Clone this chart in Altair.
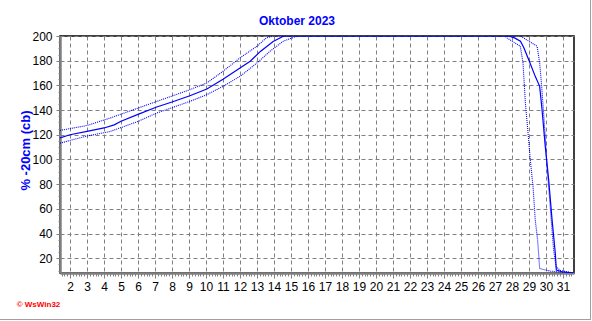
import altair as alt
import pandas as pd

# ---- data ----
main_day = [1.41, 2.0, 3.0, 4.0, 4.6, 5.0, 6.0, 7.1, 8.0, 9.05, 10.05, 11.0, 12.0,
            12.6, 13.2, 13.95, 14.55, 14.85, 27.8, 28.15, 28.5, 28.7, 28.98, 29.37,
            29.63, 29.77, 29.96, 30.16, 30.36, 30.55, 30.61, 30.94, 31.53, 31.65]
main_val = [117.5, 120, 122.8, 125.5, 128, 131, 136.5, 142.5, 146.5, 151.6, 157, 165, 174,
            179.5, 187.5, 195.5, 199.8, 200, 200, 198.5, 195.8, 190.4, 181, 167.3,
            159.2, 140.3, 110.5, 83.4, 51, 24, 10.3, 9, 8.2, 8]

upper_day = [1.41, 3.0, 4.35, 6.0, 7.1, 9.05, 10.05, 11.0, 12.0, 13.0, 13.55, 14.0,
             28.5, 28.85, 29.48, 29.63, 29.75, 29.86, 29.96, 30.06, 30.16, 30.31,
             30.45, 30.6, 30.85, 31.65]
upper_val = [123.5, 127.5, 133.5, 141.6, 147, 156.5, 162, 171.4, 182.3, 191.7, 198.5, 200,
             200, 197, 191.7, 178.2, 159, 137.6, 118.6, 94.2, 78, 51,
             26.5, 13, 10, 8]

lower_day = [1.41, 3.0, 4.35, 6.0, 7.1, 9.05, 10.05, 11.0, 12.0, 13.0, 13.77, 14.55,
             15.34, 15.6, 27.6, 27.7, 28.49, 28.65, 28.79, 28.93, 29.08, 29.24,
             29.37, 29.51, 29.63, 30.26, 31.65]
lower_val = [113.2, 119, 122.6, 130.8, 137.6, 147, 152.5, 159.2, 167.3, 178.2, 187.7, 195.8,
             199.8, 200, 200, 198.5, 191.7, 178.2, 145.7, 124, 99.6, 78,
             50.9, 34.6, 11.6, 9.5, 8]

x_domain = [1.41, 31.65]
y_domain = [8, 200]

BLUE = "#0000FF"
GRAY = "#808080"
FONT = "Liberation Sans"

x_ticks = [d + k / 6 for d in range(1, 33) for k in range(6)
           if x_domain[0] <= d + k / 6 <= x_domain[1]]
y_ticks = list(range(10, 201, 5))

is_int = "datum.value % 1 === 0"
is_20 = "datum.value % 20 === 0"

x_enc = alt.X(
    "day:Q",
    scale=alt.Scale(domain=x_domain, nice=False, zero=False),
    axis=alt.Axis(
        values=x_ticks,
        labelExpr="datum.value % 1 === 0 ? format(datum.value, 'd') : ''",
        labelOverlap=False,
        labelFlush=False,
        labelFont=FONT,
        labelFontSize=12,
        labelColor="black",
        labelPadding=3,
        tickColor=GRAY,
        tickSize={"condition": {"test": is_int, "value": 5}, "value": 3},
        grid=True,
        gridColor=GRAY,
        gridDash=[4, 3],
        gridWidth=1,
        gridOpacity={"condition": {"test": is_int, "value": 1}, "value": 0},
        domainColor=GRAY,
        domainWidth=2.5,
        title="\u00a9 WsWin32",
        titleColor="#FF0000",
        titleFont=FONT,
        titleFontSize=8,
        titleFontWeight="bold",
        titleX=-22,
        titleY=31,
        titleAlign="center",
        titleBaseline="middle",
    ),
)

y_enc = alt.Y(
    "value:Q",
    scale=alt.Scale(domain=y_domain, nice=False, zero=False),
    axis=alt.Axis(
        values=y_ticks,
        labelExpr="datum.value % 20 === 0 ? format(datum.value, 'd') : ''",
        labelOverlap=False,
        labelFlush=False,
        labelFont=FONT,
        labelFontSize=12,
        labelColor="black",
        labelPadding=4,
        tickColor=GRAY,
        tickSize={"condition": {"test": is_20, "value": 4}, "value": 2},
        grid=True,
        gridColor=GRAY,
        gridDash=[4, 3],
        gridWidth=1,
        gridOpacity={"condition": {"test": is_20, "value": 1}, "value": 0},
        domainColor=GRAY,
        domainWidth=2.5,
        title="% -20cm (cb)",
        titleColor=BLUE,
        titleFont=FONT,
        titleFontSize=13,
        titleFontWeight="bold",
        titleAngle=270,
        titleX=-35,
        titleY=114,
        titleAlign="center",
        titleBaseline="middle",
    ),
)

main_df = pd.DataFrame({"day": main_day, "value": main_val})
upper_df = pd.DataFrame({"day": upper_day, "value": upper_val})
lower_df = pd.DataFrame({"day": lower_day, "value": lower_val})

upper = alt.Chart(upper_df).mark_line(color=BLUE, strokeWidth=1.1, strokeDash=[1, 1], clip=True).encode(x=x_enc, y=y_enc)
lower = alt.Chart(lower_df).mark_line(color=BLUE, strokeWidth=1.1, strokeDash=[1, 1], clip=True).encode(x=x_enc, y=y_enc)
main = alt.Chart(main_df).mark_line(color=BLUE, strokeWidth=1.2, clip=True).encode(x=x_enc, y=y_enc)

# outer window frame (right and bottom edges)
frame_r = alt.Chart(main_df).mark_rule(color="#A0A0A0", strokeWidth=1).encode(
    x=alt.value(530.5), y=alt.value(-36), y2=alt.value(283.5))
frame_b = alt.Chart(main_df).mark_rule(color="#A0A0A0", strokeWidth=1).encode(
    x=alt.value(-60), x2=alt.value(530.5), y=alt.value(283.5))

chart = alt.layer(upper, lower, main, frame_r, frame_b).properties(
    width=514,
    height=237,
    padding={"left": 60, "top": 36, "right": 18, "bottom": 48},
    autosize=alt.AutoSizeParams(type="none"),
    background="white",
    title=alt.Title(
        "Oktober 2023",
        color=BLUE,
        font=FONT,
        fontSize=12,
        fontWeight="bold",
        anchor="middle",
        frame="group",
        baseline="bottom",
        dx=-20,
        dy=50,
        offset=10,
    ),
).configure_view(stroke="black", strokeWidth=1.5)

chart.save("out.html", embed_options={"renderer": "svg", "actions": False})
